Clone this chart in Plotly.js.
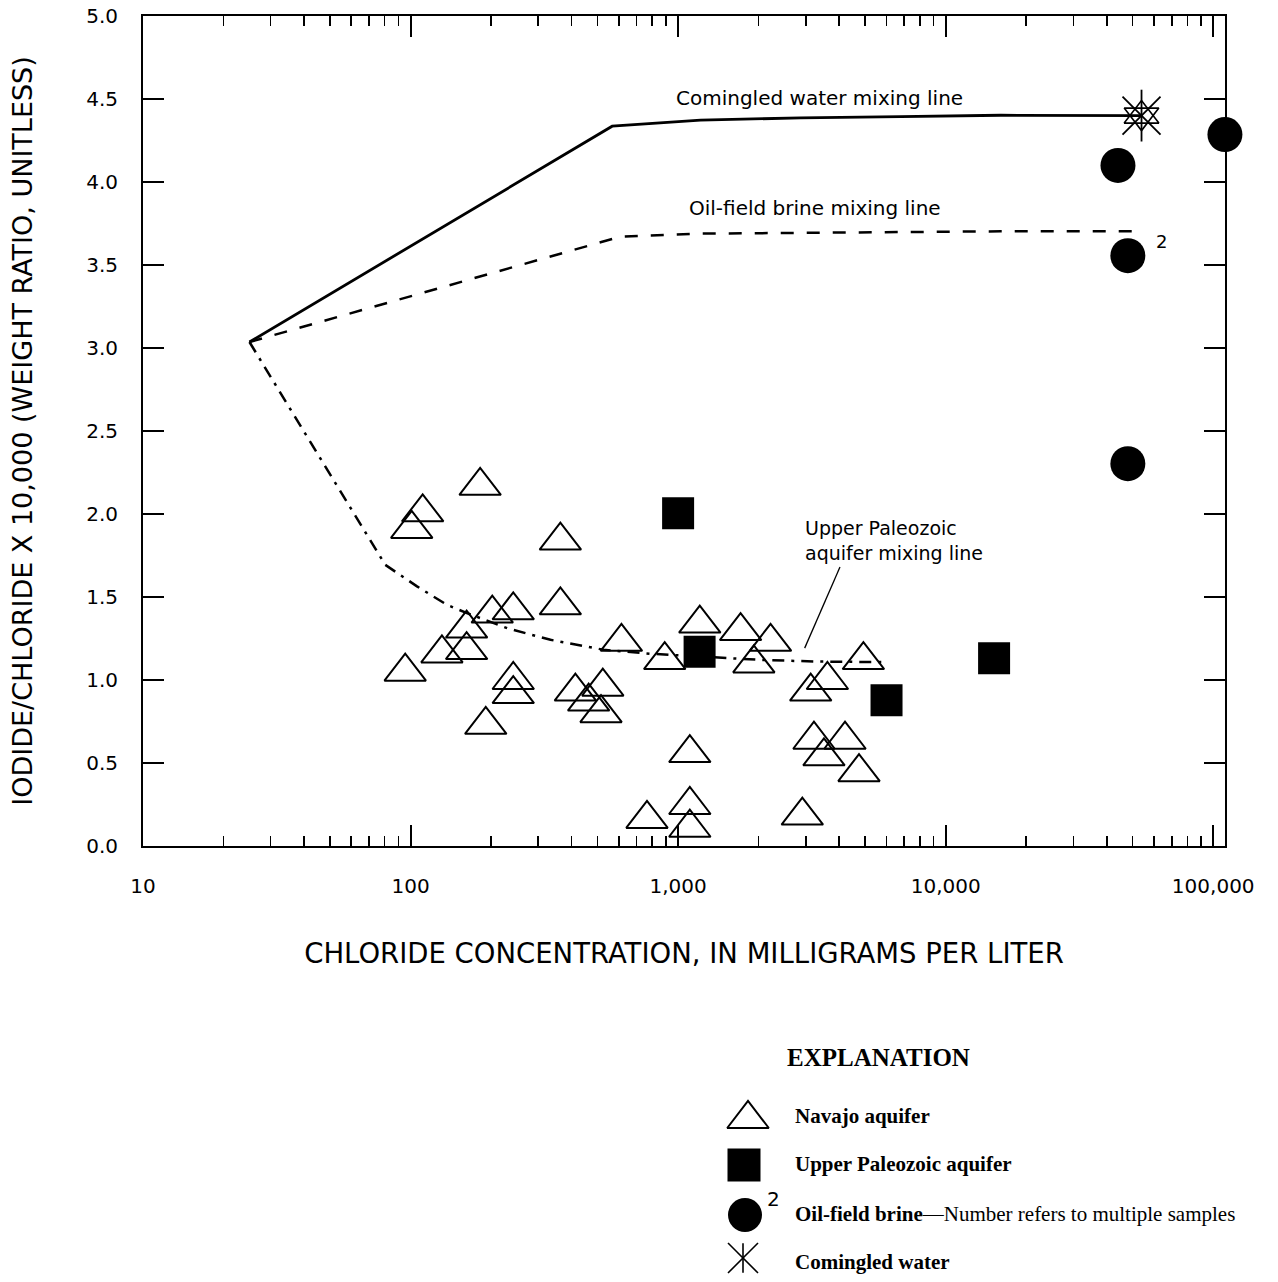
<!DOCTYPE html>
<html>
<head>
<meta charset="utf-8">
<script src="https://cdn.plot.ly/plotly-3.0.1.min.js"></script>
<style>html,body{margin:0;padding:0;background:#fff;}#chart{width:1278px;height:1282px;}</style>
</head>
<body>
<div id="chart"></div>
<script>
// ---------- data ----------
var navajoX = [182, 111, 101, 363, 363, 202, 242, 162, 162, 131, 95.5, 242, 242, 191, 413, 523, 463, 515, 614, 765,
               891, 1205, 1712, 2216, 1919, 3130, 3614, 4926, 1106, 3219, 4205, 3508, 4743, 1106, 1106, 2912];
var navajoY = [2.17, 2.01, 1.91, 1.84, 1.45, 1.40, 1.42, 1.31, 1.18, 1.16, 1.05, 1.00, 0.915, 0.73, 0.93, 0.96, 0.87, 0.80, 1.23, 0.163,
               1.12, 1.34, 1.295, 1.23, 1.10, 0.93, 1.00, 1.12, 0.56, 0.64, 0.64, 0.54, 0.445, 0.247, 0.11, 0.183];

var paleozoicX = [1000, 1203, 6011, 15170];
var paleozoicY = [2.005, 1.17, 0.878, 1.131];

var brineX = [44050, 47960, 47960, 110600];
var brineY = [4.10, 3.556, 2.303, 4.286];

var comingledX = [53950];
var comingledY = [4.40];

var comingledLineX = [25.0, 567, 1213, 2871, 6792, 16070, 53950];
var comingledLineY = [3.036, 4.336, 4.373, 4.386, 4.394, 4.402, 4.40];

var brineLineX = [25.0, 609, 1213, 2871, 16070, 53950];
var brineLineY = [3.036, 3.671, 3.689, 3.693, 3.703, 3.703];

var paleozoicLineX = [25.0, 80.4, 105.7, 136.8, 162.5, 229.6, 333.5, 527, 789, 1322, 2033, 3313, 5810];
var paleozoicLineY = [3.036, 1.694, 1.564, 1.453, 1.403, 1.312, 1.242, 1.182, 1.158, 1.138, 1.121, 1.111, 1.108];

var pointerX = [4027, 2972];
var pointerY = [1.681, 1.192];

var xTickVals = [10, 100, 1000, 10000, 100000];
var xTickText = ['10', '100', '1,000', '10,000', '100,000'];
var yTickVals = [0, 0.5, 1, 1.5, 2, 2.5, 3, 3.5, 4, 4.5, 5];
var yTickText = ['0.0', '0.5', '1.0', '1.5', '2.0', '2.5', '3.0', '3.5', '4.0', '4.5', '5.0'];

var legendLabels = ['Navajo aquifer', 'Upper Paleozoic aquifer',
  '<b>Oil-field brine</b>\u2014Number refers to multiple samples', 'Comingled water'];

// minor tick positions (2..9 within each decade)
var minorVals = [];
[10, 100, 1000, 10000, 100000].forEach(function (d) {
  for (var k = 2; k <= 9; k++) { if (d * k < 111000) minorVals.push(d * k); }
});

var SANS = 'DejaVu Sans';
var SERIF = 'Liberation Serif';
var BLACK = '#000';

// ---------- layout geometry ----------
var W = 1278, H = 1282, L = 143, R = 53, T = 16;
var plotBottom = 846;
var yDomLow = (H - plotBottom) / (H - T);

var traces = [];

// mixing lines
traces.push({x: comingledLineX, y: comingledLineY, mode: 'lines', type: 'scatter',
  line: {color: BLACK, width: 2.8}, hoverinfo: 'skip', showlegend: false});
traces.push({x: brineLineX, y: brineLineY, mode: 'lines', type: 'scatter',
  line: {color: BLACK, width: 2.5, dash: '13px,13px'}, hoverinfo: 'skip', showlegend: false});
traces.push({x: paleozoicLineX, y: paleozoicLineY, mode: 'lines', type: 'scatter',
  line: {color: BLACK, width: 2.5, dash: '12px,7px,3px,7px'}, hoverinfo: 'skip', showlegend: false});
traces.push({x: pointerX, y: pointerY, mode: 'lines', type: 'scatter',
  line: {color: BLACK, width: 1.3}, hoverinfo: 'skip', showlegend: false});

// Navajo
traces.push({x: navajoX, y: navajoY, mode: 'markers', type: 'scatter', name: 'Navajo aquifer',
  marker: {symbol: 'triangle-up-open', size: 36, color: BLACK, line: {color: BLACK, width: 2}},
  cliponaxis: false, showlegend: false});
// Upper Paleozoic
traces.push({x: paleozoicX, y: paleozoicY, mode: 'markers', type: 'scatter', name: 'Upper Paleozoic aquifer',
  marker: {symbol: 'square', size: 32, color: BLACK, line: {width: 0}}, cliponaxis: false, showlegend: false});
// Oil-field brine
traces.push({x: brineX, y: brineY, mode: 'markers', type: 'scatter', name: 'Oil-field brine',
  marker: {symbol: 'circle', size: 35, color: BLACK, line: {width: 0}}, cliponaxis: false, showlegend: false});
// Comingled water (6-armed asterisk + star)
['line-ns-open', 'line-ne-open', 'line-nw-open'].forEach(function (s, i) {
  traces.push({x: comingledX, y: comingledY, mode: 'markers', type: 'scatter', name: 'Comingled water',
    marker: {symbol: s, size: i === 0 ? 37 : 38, color: BLACK, line: {color: BLACK, width: 1.8}},
    cliponaxis: false, showlegend: false});
});
['triangle-up-open', 'triangle-down-open'].forEach(function (s) {
  traces.push({x: comingledX, y: comingledY, mode: 'markers', type: 'scatter',
    marker: {symbol: s, size: 30, color: BLACK, line: {color: BLACK, width: 1.6}},
    cliponaxis: false, showlegend: false, hoverinfo: 'skip'});
});

// ---------- explanation (legend) drawn in pixel-coordinate overlay axes ----------
var legX = [748, 744, 745, 743];
var legY = [1119, 1165, 1215, 1258];
traces.push({x: [legX[0]], y: [legY[0]], xaxis: 'x2', yaxis: 'y2', mode: 'markers', type: 'scatter',
  marker: {symbol: 'triangle-up-open', size: 36, color: BLACK, line: {color: BLACK, width: 2}}, cliponaxis: false, showlegend: false});
traces.push({x: [legX[1]], y: [legY[1]], xaxis: 'x2', yaxis: 'y2', mode: 'markers', type: 'scatter',
  marker: {symbol: 'square', size: 33, color: BLACK}, cliponaxis: false, showlegend: false});
traces.push({x: [legX[2]], y: [legY[2]], xaxis: 'x2', yaxis: 'y2', mode: 'markers', type: 'scatter',
  marker: {symbol: 'circle', size: 34, color: BLACK}, cliponaxis: false, showlegend: false});
[['line-ns-open', 21], ['line-ne-open', 30], ['line-nw-open', 30]].forEach(function (p) {
  traces.push({x: [legX[3]], y: [legY[3]], xaxis: 'x2', yaxis: 'y2', mode: 'markers', type: 'scatter',
    marker: {symbol: p[0], size: p[1], color: BLACK, line: {color: BLACK, width: 1.6}}, cliponaxis: false, showlegend: false});
});

var annotations = [
  {x: Math.log10(3370), y: 4.505, xref: 'x', yref: 'y', text: 'Comingled water mixing line', showarrow: false,
   font: {family: SANS, size: 20, color: BLACK}, xanchor: 'center', yanchor: 'middle'},
  {x: Math.log10(3245), y: 3.842, xref: 'x', yref: 'y', text: 'Oil-field brine mixing line', showarrow: false,
   font: {family: SANS, size: 20, color: BLACK}, xanchor: 'center', yanchor: 'middle'},
  {x: Math.log10(2920), y: 1.84, xref: 'x', yref: 'y', text: 'Upper Paleozoic<br>aquifer mixing line', showarrow: false,
   font: {family: SANS, size: 19, color: BLACK}, xanchor: 'left', yanchor: 'middle', align: 'left'},
  {x: Math.log10(63800), y: 3.64, xref: 'x', yref: 'y', text: '2', showarrow: false,
   font: {family: SANS, size: 18, color: BLACK}, xanchor: 'center', yanchor: 'middle'},
  // explanation texts
  {x: 878, y: 1057, xref: 'x2', yref: 'y2', text: '<b>EXPLANATION</b>', showarrow: false,
   font: {family: SERIF, size: 25, color: BLACK}, xanchor: 'center', yanchor: 'middle'},
  {x: 773, y: 1199, xref: 'x2', yref: 'y2', text: '2', showarrow: false,
   font: {family: SANS, size: 20, color: BLACK}, xanchor: 'center', yanchor: 'middle'}
];
var legTextY = [1116, 1164, 1214, 1262];
legendLabels.forEach(function (t, i) {
  annotations.push({x: 793, y: legTextY[i], xref: 'x2', yref: 'y2',
    text: i === 2 ? t : '<b>' + t + '</b>', showarrow: false,
    font: {family: SERIF, size: 21, color: BLACK}, xanchor: 'left', yanchor: 'middle'});
});

var axisCommon = {
  showline: true, linewidth: 2, linecolor: BLACK, mirror: 'ticks',
  ticks: 'inside', tickwidth: 2, tickcolor: BLACK,
  showgrid: false, zeroline: false, tickmode: 'array',
  tickfont: {family: SANS, size: 20, color: BLACK}
};

var layout = {
  width: W, height: H,
  margin: {l: L, r: R, t: T, b: 0, pad: 0},
  paper_bgcolor: '#fff', plot_bgcolor: '#fff',
  showlegend: false,
  xaxis: Object.assign({}, axisCommon, {
    type: 'log', range: [1, 5.044], tickvals: xTickVals, ticktext: xTickText, ticklen: 21,
    ticklabelstandoff: 21, anchor: 'y',
    minor: {tickmode: 'array', tickvals: minorVals, ticks: 'inside', ticklen: 10, tickwidth: 1.6, tickcolor: BLACK, showgrid: false},
    title: {text: 'CHLORIDE CONCENTRATION, IN MILLIGRAMS PER LITER', standoff: 47,
            font: {family: SANS, size: 27.5, color: BLACK}}
  }),
  yaxis: Object.assign({}, axisCommon, {
    range: [0, 5], domain: [yDomLow, 1], tickvals: yTickVals, ticktext: yTickText, ticklen: 21,
    ticklabelstandoff: 19, anchor: 'x',
    title: {text: 'IODIDE/CHLORIDE X 10,000 (WEIGHT RATIO, UNITLESS)', standoff: 46,
            font: {family: SANS, size: 27, color: BLACK}}
  }),
  xaxis2: {domain: [0, 1], range: [L, W - R], anchor: 'y2', visible: false, fixedrange: true},
  yaxis2: {domain: [0, yDomLow], range: [H, plotBottom], anchor: 'x2', visible: false, fixedrange: true},
  annotations: annotations
};

Plotly.newPlot('chart', traces, layout, {displayModeBar: false, staticPlot: true});
</script>
</body>
</html>
